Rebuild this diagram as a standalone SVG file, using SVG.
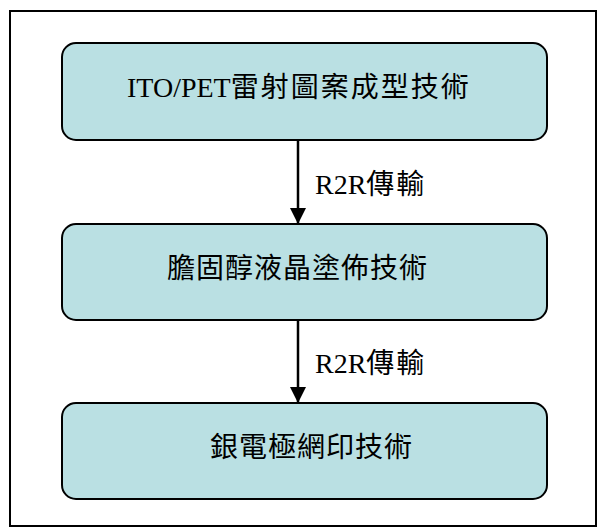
<svg xmlns="http://www.w3.org/2000/svg" width="599" height="529" viewBox="0 0 599 529">
<style>
.box{fill:#bae0e3;stroke:#000;stroke-width:2}
.t{font-family:"Liberation Serif","Noto Sans CJK TC",serif;font-size:28px;fill:#000}
.cjk{letter-spacing:2px}
.cjk1{letter-spacing:1px}
.conn{stroke:#000;stroke-width:2.5;fill:none}
</style>
<defs>
<marker id="ah" markerWidth="16" markerHeight="16" refX="16" refY="8" orient="auto" markerUnits="userSpaceOnUse">
<path d="M0,0 L16,8 L0,16 Z" fill="#000"/>
</marker>
</defs>
<rect x="10" y="11" width="586" height="515" fill="#fff" stroke="#000" stroke-width="2"/>
<g id="connectors">
<line class="conn" x1="298" y1="140" x2="298" y2="224" marker-end="url(#ah)"/>
<line class="conn" x1="298" y1="320" x2="298" y2="403" marker-end="url(#ah)"/>
<text class="t" x="315" y="194">R2R<tspan class="cjk">傳輸</tspan></text>
<text class="t" x="315" y="373">R2R<tspan class="cjk">傳輸</tspan></text>
</g>
<g id="node1">
<rect class="box" x="62" y="43" width="485" height="97" rx="14"/>
<text class="t" x="127" y="97">ITO/PET<tspan class="cjk">雷射圖案成型技術</tspan></text>
</g>
<g id="node2">
<rect class="box" x="62" y="224" width="485" height="96" rx="14"/>
<text class="t cjk1" x="167" y="278">膽固醇液晶塗佈技術</text>
</g>
<g id="node3">
<rect class="box" x="62" y="403" width="485" height="96" rx="14"/>
<text class="t cjk1" x="210" y="457">銀電極網印技術</text>
</g>
</svg>
